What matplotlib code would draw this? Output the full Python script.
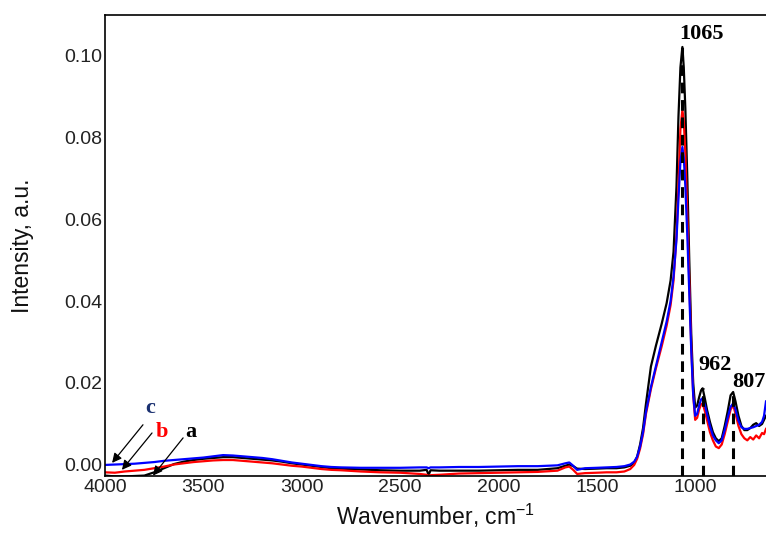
import numpy as np
import matplotlib
matplotlib.use("Agg")
import matplotlib.pyplot as plt

plt.rcParams['font.family'] = ['Liberation Sans', 'DejaVu Sans']
plt.rcParams['mathtext.fontset'] = 'custom'
plt.rcParams['mathtext.rm'] = 'Liberation Sans'
plt.rcParams['mathtext.default'] = 'regular'

# Wavenumber grid (cm-1) and the three spectra
wavenumber = [4000, 3950, 3900, 3850, 3800, 3750, 3700, 3650, 3600, 3550,
              3500, 3450, 3400, 3350, 3300, 3250, 3200, 3150, 3100, 3050,
              3000, 2950, 2900, 2850, 2800, 2700, 2600, 2500, 2400, 2365,
              2355, 2345, 2300, 2200, 2100, 2000, 1900, 1800, 1700, 1660,
              1640, 1620, 1600, 1560, 1500, 1450, 1400, 1360, 1330, 1310,
              1295, 1280, 1265, 1250, 1225, 1200, 1170, 1145, 1125, 1110,
              1095, 1085, 1075, 1065, 1058, 1050, 1040, 1030, 1020, 1010,
              1000, 990, 980, 970, 962, 950, 940, 925, 910, 895,
              880, 865, 850, 835, 820, 807, 795, 780, 765, 750,
              735, 720, 705, 690, 675, 660, 650, 640]

muestra_a = [-0.0026, -0.0028, -0.0028, -0.0027, -0.0026, -0.0018, -0.0008, 0.0002, 0.0008, 0.0012,
             0.0015, 0.0017, 0.0019, 0.0019, 0.0017, 0.0015, 0.0013, 0.0011, 0.0008, 0.0004,
             0.0001, -0.0002, -0.0005, -0.0008, -0.0009, -0.0011, -0.0013, -0.0014, -0.0014, -0.0012,
             -0.0024, -0.0013, -0.0014, -0.0014, -0.0014, -0.0013, -0.0012, -0.0012, -0.0008, -0.0002,
             0.0001, -0.0003, -0.0009, -0.0010, -0.0009, -0.0008, -0.0008, -0.0006, -0.0002, 0.0005,
             0.002, 0.005, 0.009, 0.015, 0.024, 0.029, 0.0345, 0.0395, 0.045, 0.052,
             0.068, 0.085, 0.097, 0.102, 0.097, 0.087, 0.070, 0.050, 0.032, 0.020,
             0.014, 0.0145, 0.0165, 0.0182, 0.0187, 0.016, 0.0135, 0.0105, 0.008, 0.0065,
             0.0058, 0.0065, 0.0095, 0.013, 0.017, 0.0178, 0.0155, 0.012, 0.0095, 0.0085,
             0.0085, 0.009, 0.0098, 0.0102, 0.0095, 0.010, 0.011, 0.012]

muestra_b = [-0.0018, -0.0019, -0.0016, -0.0014, -0.0012, -0.0008, -0.0004, 0.0001, 0.0004, 0.0007,
             0.0009, 0.0011, 0.0012, 0.0012, 0.0010, 0.0008, 0.0006, 0.0004, 0.0001, -0.0002,
             -0.0004, -0.0007, -0.0010, -0.0012, -0.0013, -0.0016, -0.0018, -0.0019, -0.0022, -0.0024,
             -0.0027, -0.0025, -0.0024, -0.0021, -0.0020, -0.0019, -0.0018, -0.0017, -0.0014, -0.0006,
             -0.0004, -0.0012, -0.0022, -0.0020, -0.0019, -0.0018, -0.0018, -0.0016, -0.0010, 0.0000,
             0.0015, 0.004, 0.0075, 0.0125, 0.0185, 0.0235, 0.029, 0.034, 0.039, 0.045,
             0.056, 0.068, 0.082, 0.0866, 0.084, 0.076, 0.061, 0.045, 0.029, 0.017,
             0.011, 0.0115, 0.0135, 0.0148, 0.015, 0.013, 0.011, 0.008, 0.006, 0.0045,
             0.0041, 0.005, 0.0075, 0.0105, 0.0135, 0.0146, 0.0125, 0.0095, 0.0075, 0.0065,
             0.006, 0.0068, 0.0062, 0.0072, 0.0065, 0.0078, 0.0075, 0.0088]

muestra_c = [0.0000, 0.0001, 0.0002, 0.0003, 0.0005, 0.0007, 0.0010, 0.0012, 0.0014, 0.0016,
             0.0018, 0.0021, 0.0024, 0.0023, 0.0021, 0.0019, 0.0017, 0.0014, 0.0010, 0.0006,
             0.0003, 0.0000, -0.0003, -0.0005, -0.0006, -0.0007, -0.0007, -0.0007, -0.0006, -0.0006,
             -0.0008, -0.0006, -0.0006, -0.0005, -0.0005, -0.0004, -0.0003, -0.0003, -0.0001, 0.0004,
             0.0006, -0.0002, -0.0012, -0.0008, -0.0007, -0.0006, -0.0005, -0.0003, 0.0001, 0.0008,
             0.002, 0.0045, 0.008, 0.013, 0.019, 0.024, 0.030, 0.035, 0.040, 0.046,
             0.055, 0.065, 0.074, 0.0776, 0.075, 0.068, 0.056, 0.042, 0.028, 0.017,
             0.012, 0.0125, 0.0145, 0.016, 0.0163, 0.0145, 0.0125, 0.0095, 0.0072, 0.006,
             0.0053, 0.006, 0.0085, 0.0115, 0.0142, 0.015, 0.0135, 0.0108, 0.0092, 0.0088,
             0.0088, 0.009, 0.0092, 0.0095, 0.0098, 0.0105, 0.012, 0.0155]

# Bandas marcadas
picos = [1065, 962, 807]
etiquetas_picos = ['1065', '962', '807']
desplaz_etiquetas = [(14, 9), (9, 17), (11, 7)]

ymin, ymax = -0.0027, 0.1098

fig = plt.figure(figsize=(7.66, 5.33), dpi=100)
ax = fig.add_axes([105 / 766, 57 / 533, 661 / 766, 461 / 533])

ax.plot(wavenumber, muestra_a, color='black', lw=1.6)
ax.plot(wavenumber, muestra_b, color='#ff0000', lw=1.6)
ax.plot(wavenumber, muestra_c, color='#0000ff', lw=1.6)

# Lineas verticales discontinuas hasta el maximo de la curva a
wn_inv = np.array(wavenumber)[::-1]
a_inv = np.array(muestra_a)[::-1]
alturas = np.interp(picos, wn_inv, a_inv)
ax.vlines(picos, ymin, alturas, colors='black', linestyles=(0, (3.5, 2.2)),
          lw=2.2, zorder=5)

for p, h, txt, off in zip(picos, alturas, etiquetas_picos, desplaz_etiquetas):
    ax.annotate(txt, xy=(p, h), xytext=off, textcoords='offset points',
                ha='center', va='center', fontsize=16, fontweight='bold',
                family=['Liberation Serif', 'DejaVu Serif'])

# Etiquetas a, b, c con flechas
letras = ['c', 'b', 'a']
colores_letras = ['#1a3070', '#ff0000', 'black']
pos_letras = [(3771, 0.0139), (3710, 0.0080), (3563, 0.0080)]
inicio_flechas = [(3807, 0.0098), (3761, 0.0078), (3603, 0.0066)]
punta_flechas = [(3964, 0.0005), (3914, -0.0012), (3756, -0.0026)]

for l, c, pl, ini, fin in zip(letras, colores_letras, pos_letras, inicio_flechas, punta_flechas):
    ax.text(pl[0], pl[1], l, color=c, fontsize=16, fontweight='bold',
            ha='center', va='center', family=['Liberation Serif', 'DejaVu Serif'])
    ax.annotate('', xy=fin, xytext=ini,
                arrowprops=dict(arrowstyle='-|>', color='black', lw=0.9,
                                mutation_scale=14, shrinkA=0, shrinkB=0))

ax.set_xlim(4000, 640)
ax.set_ylim(ymin, ymax)
ax.set_xticks([4000, 3500, 3000, 2500, 2000, 1500, 1000])
ax.set_yticks([0.00, 0.02, 0.04, 0.06, 0.08, 0.10])
ax.set_yticklabels(['0.00', '0.02', '0.04', '0.06', '0.08', '0.10'])
ax.tick_params(length=0, labelsize=14, labelcolor='#222222', pad=2)

ax.spines['right'].set_visible(False)
for s in ['left', 'top', 'bottom']:
    ax.spines[s].set_linewidth(1.2)

ax.set_xlabel('Wavenumber, cm$^{-1}$', fontsize=16.5, color='#111111', labelpad=4)
ax.set_ylabel('Intensity, a.u.', fontsize=16.5, color='#111111')
ax.yaxis.set_label_coords(-0.108, 0.5)

fig.savefig('out.png', dpi=100)
